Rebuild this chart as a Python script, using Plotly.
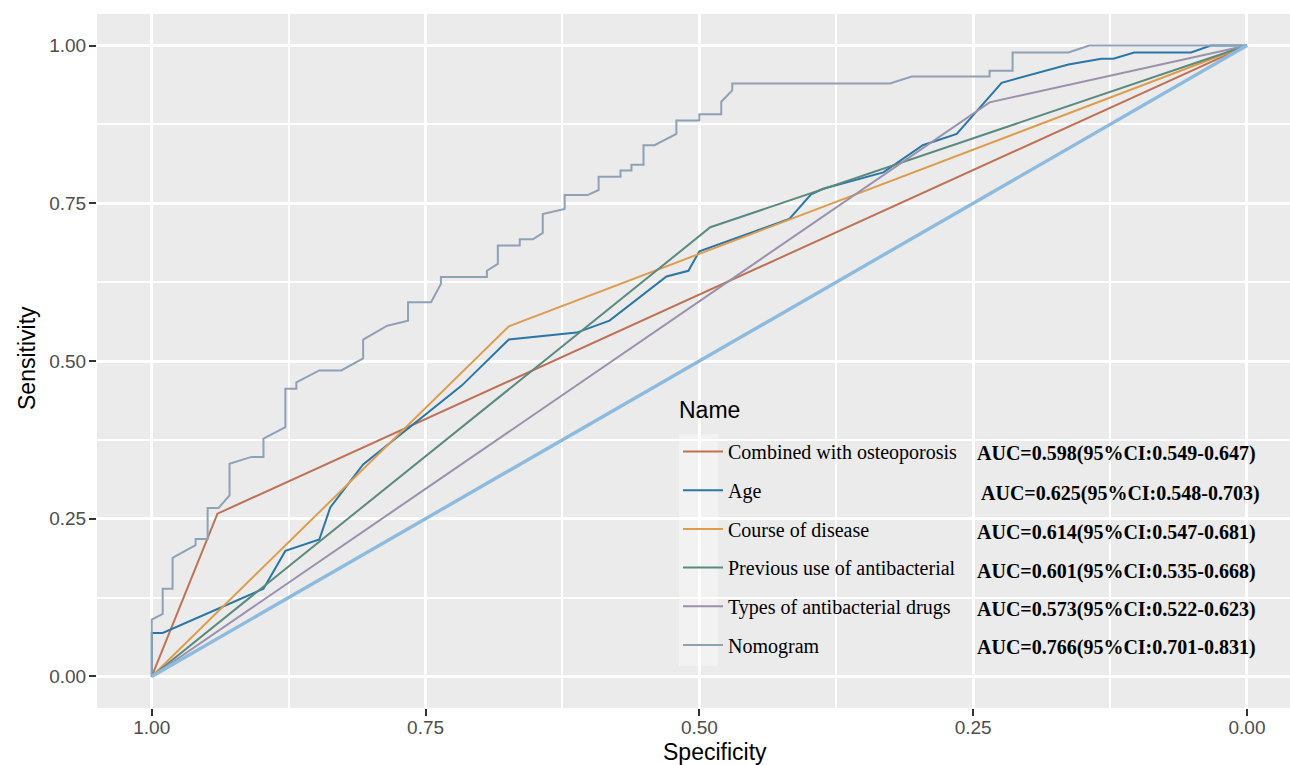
import plotly.graph_objects as go

# ---------------- data ----------------
names = ["Combined with osteoporosis", "Age", "Course of disease",
         "Previous use of antibacterial", "Types of antibacterial drugs", "Nomogram"]
colors = ["#BF7155", "#2A76A6", "#DE9C4E", "#5A8A7E", "#9A91AD", "#8FA1B5"]
auc_text = ["AUC=0.598(95%CI:0.549-0.647)", "AUC=0.625(95%CI:0.548-0.703)",
            "AUC=0.614(95%CI:0.547-0.681)", "AUC=0.601(95%CI:0.535-0.668)",
            "AUC=0.573(95%CI:0.522-0.623)", "AUC=0.766(95%CI:0.701-0.831)"]
legend_title = "Name"

spec_osteo = [1.0, 0.940, 0.0]
sens_osteo = [0.0, 0.258, 1.0]

spec_age = [1.0, 1.0, 0.990, 0.898, 0.878, 0.847, 0.837, 0.807, 0.717, 0.674, 0.612,
            0.582, 0.530, 0.510, 0.500, 0.418, 0.398, 0.387, 0.332, 0.296, 0.265,
            0.224, 0.163, 0.133, 0.122, 0.103, 0.051, 0.033, 0.0]
sens_age = [0.0, 0.069, 0.069, 0.139, 0.199, 0.217, 0.268, 0.336, 0.461, 0.534, 0.545,
            0.564, 0.634, 0.643, 0.674, 0.725, 0.764, 0.773, 0.799, 0.842, 0.860,
            0.941, 0.970, 0.979, 0.979, 0.989, 0.989, 1.0, 1.0]

spec_course = [1.0, 0.674, 0.0]
sens_course = [0.0, 0.555, 1.0]

spec_prev = [1.0, 0.490, 0.0]
sens_prev = [0.0, 0.712, 1.0]

spec_types = [1.0, 0.235, 0.0]
sens_types = [0.0, 0.910, 1.0]

spec_nomo = [1.0, 1.0, 0.990, 0.990, 0.981, 0.981, 0.960, 0.960, 0.949, 0.949, 0.939,
             0.929, 0.929, 0.909, 0.898, 0.898, 0.878, 0.878, 0.868, 0.868, 0.847,
             0.827, 0.807, 0.807, 0.785, 0.766, 0.766, 0.745, 0.736, 0.736, 0.694,
             0.694, 0.684, 0.684, 0.664, 0.664, 0.652, 0.643, 0.643, 0.623, 0.623,
             0.602, 0.592, 0.592, 0.572, 0.572, 0.562, 0.562, 0.551, 0.551, 0.541,
             0.521, 0.521, 0.500, 0.500, 0.480, 0.480, 0.470, 0.470, 0.326, 0.306,
             0.235, 0.235, 0.214, 0.214, 0.163, 0.144, 0.0]
sens_nomo = [0.0, 0.090, 0.099, 0.139, 0.139, 0.188, 0.208, 0.218, 0.218, 0.267, 0.267,
             0.287, 0.337, 0.348, 0.348, 0.377, 0.395, 0.456, 0.456, 0.466, 0.485,
             0.485, 0.504, 0.534, 0.556, 0.564, 0.593, 0.593, 0.622, 0.633, 0.633,
             0.643, 0.654, 0.683, 0.683, 0.693, 0.693, 0.703, 0.733, 0.741, 0.763,
             0.763, 0.771, 0.792, 0.792, 0.802, 0.802, 0.811, 0.811, 0.842, 0.842,
             0.860, 0.881, 0.881, 0.891, 0.891, 0.911, 0.929, 0.940, 0.940, 0.951,
             0.951, 0.960, 0.960, 0.989, 0.989, 1.0, 1.0]

diag_spec = [1.0, 0.0]
diag_sens = [0.0, 1.0]

specs = [spec_osteo, spec_age, spec_course, spec_prev, spec_types, spec_nomo]
senss = [sens_osteo, sens_age, sens_course, sens_prev, sens_types, sens_nomo]

tick_vals = [1.0, 0.75, 0.5, 0.25, 0.0]
tick_text = ["1.00", "0.75", "0.50", "0.25", "0.00"]
minor_vals = [0.875, 0.625, 0.375, 0.125]

# ---------------- layout geometry (pixels) ----------------
W, H = 1290, 765
ML, MR, MT, MB = 97, 0, 14, 57
PW, PH = W - ML - MR, H - MT - MB


def px_x(px):
    return (px - ML) / PW


def px_y(py):
    return (H - MB - py) / PH


fig = go.Figure()
for i, (n, c) in enumerate(zip(names, colors)):
    fig.add_trace(go.Scatter(x=specs[i], y=senss[i], mode="lines", name=n,
                             legendgroup=f"g{i}",
                             line=dict(color=c, width=2), hoverinfo="skip"))
fig.add_trace(go.Scatter(x=diag_spec, y=diag_sens, mode="lines", showlegend=False,
                         line=dict(color="#8DBBDF", width=3.4), hoverinfo="skip"))

sans = "Liberation Sans, Arial, sans-serif"
serif = "Liberation Serif, Times New Roman, serif"

axis_common = dict(
    showgrid=True, gridcolor="white", gridwidth=2.8,
    zeroline=False, showline=False, automargin=False,
    ticks="outside", ticklen=7, tickwidth=2, tickcolor="#333333",
    tickfont=dict(family=sans, size=19, color="#4D4D4D"),
    tickmode="array", tickvals=tick_vals, ticktext=tick_text,
)

fig.update_xaxes(range=[1.05, -0.0393], **axis_common, ticklabelstandoff=-5,
                 minor=dict(tickmode="array", tickvals=minor_vals, showgrid=True,
                            gridcolor="white", gridwidth=1.5, ticks=""))
fig.update_yaxes(range=[-0.05, 1.05], **axis_common, ticklabelstandoff=-1,
                 minor=dict(tickmode="array", tickvals=minor_vals, showgrid=True,
                            gridcolor="white", gridwidth=1.5, ticks=""))

annotations = [
    dict(text="Specificity", xref="paper", yref="paper", x=px_x(715), y=px_y(752),
         xanchor="center", yanchor="middle", showarrow=False,
         font=dict(family=sans, size=23, color="black")),
    dict(text="Sensitivity", xref="paper", yref="paper", x=px_x(27), y=px_y(358),
         xanchor="center", yanchor="middle", showarrow=False, textangle=-90,
         font=dict(family=sans, size=23, color="black")),
    dict(text=legend_title, xref="paper", yref="paper", x=px_x(677), y=px_y(410),
         xanchor="left", yanchor="middle", showarrow=False,
         font=dict(family=sans, size=23, color="black")),
]
auc_x = [975, 979, 975, 975, 975, 975]
auc_y = [453, 493, 532, 571, 609, 647]
for t, ax_, ay_ in zip(auc_text, auc_x, auc_y):
    annotations.append(dict(text="<b>" + t + "</b>", xref="paper", yref="paper",
                            x=px_x(ax_), y=px_y(ay_), xanchor="left", yanchor="middle",
                            showarrow=False,
                            font=dict(family=serif, size=20, color="black")))

fig.update_layout(
    width=W, height=H,
    margin=dict(l=ML, r=MR, t=MT, b=MB, pad=0, autoexpand=False),
    paper_bgcolor="white", plot_bgcolor="#EBEBEB",
    showlegend=True,
    legend=dict(x=px_x(678), y=px_y(432), xanchor="left", yanchor="top",
                bgcolor="rgba(0,0,0,0)", borderwidth=0,
                font=dict(family=serif, size=20, color="black"),
                tracegroupgap=9.7, itemwidth=40),
    annotations=annotations,
    shapes=[dict(type="rect", xref="paper", yref="paper",
                 x0=px_x(679), x1=px_x(718), y0=px_y(666), y1=px_y(434),
                 fillcolor="#F2F2F2", line=dict(width=0), layer="between")],
)

fig.write_html("out.html", config={"displayModeBar": False},
               post_script="document.body.style.margin='0';"
                           "document.body.style.overflow='hidden';")
